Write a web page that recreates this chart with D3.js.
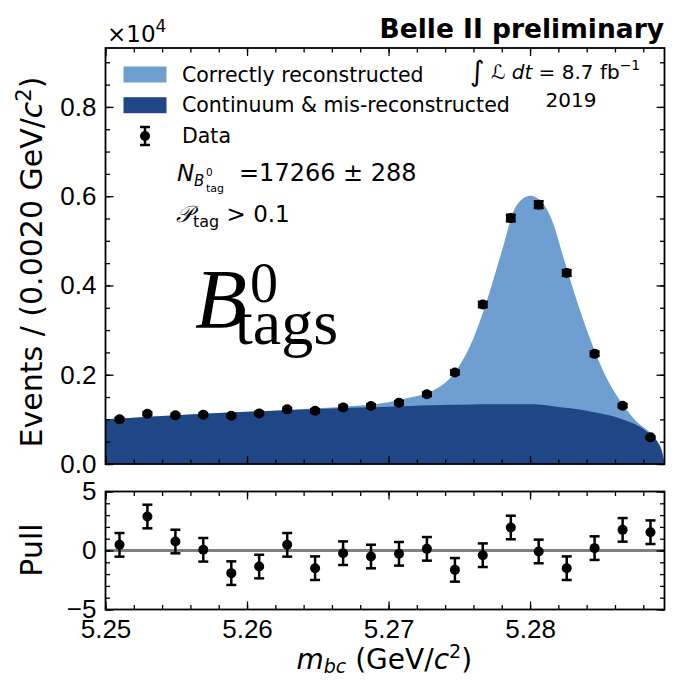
<!DOCTYPE html>
<html>
<head>
<meta charset="utf-8">
<script src="https://cdn.jsdelivr.net/npm/d3@7"></script>
<style>
  body { margin: 0; background: #fff; }
  svg { display: block; font-family: "DejaVu Sans", sans-serif; }
</style>
</head>
<body>
<svg id="chart" width="673" height="683"></svg>
<script>
// bin centres of the m_bc histogram (GeV/c^2)
const binCenters = [5.25099, 5.25296, 5.25494, 5.25691, 5.25889, 5.26086, 5.26284, 5.26481, 5.26679, 5.26876,
  5.27074, 5.27271, 5.27469, 5.27666, 5.27864, 5.28061, 5.28259, 5.28456, 5.28654, 5.28851];
const events = [1000, 1125, 1090, 1103, 1080, 1134, 1224, 1192, 1268, 1298,
  1371, 1563, 2051, 3573, 5510, 5810, 4280, 2468, 1304, 597];
const eventErr = [32, 34, 33, 33, 33, 34, 35, 35, 36, 36, 37, 40, 45, 60, 74, 76, 65, 50, 36, 24];
const pulls = [0.48, 2.88, 0.76, 0.06, -1.92, -1.36, 0.48, -1.50, -0.23, -0.51,
  -0.28, 0.14, -1.64, -0.40, 1.95, -0.08, -1.50, 0.20, 1.75, 1.55];

// fit curves
const curveMbc = [5.2500, 5.2540, 5.2580, 5.2620, 5.2660, 5.2680, 5.2700, 5.2715, 5.2730, 5.2745,
  5.2760, 5.2770, 5.2780, 5.2790, 5.2800, 5.2808, 5.2815, 5.2825, 5.2835, 5.2845,
  5.2855, 5.2865, 5.2875, 5.2882, 5.2887, 5.2891, 5.2893, 5.2895];
const bkgCurve = [1000, 1075, 1140, 1195, 1245, 1265, 1285, 1300, 1315, 1325,
  1333, 1337, 1340, 1340, 1336, 1330, 1300, 1260, 1220, 1160,
  1095, 1005, 880, 740, 611, 440, 300, 0];
const totalCurve = [1000, 1075, 1142, 1200, 1265, 1310, 1385, 1490, 1620, 1980,
  2820, 3710, 4760, 5770, 6010, 5880, 5500, 4480, 3470, 2590,
  1870, 1360, 960, 780, 640, 455, 310, 0];

const legendLabels = ['Correctly reconstructed', 'Continuum & mis-reconstructed', 'Data'];

const lightBlue = '#6f9fd0';
const darkBlue = '#1f4786';

const svg = d3.select('#chart');

const x = d3.scaleLinear().domain([5.25, 5.2895]).range([105.5, 664.5]);
const y = d3.scaleLinear().domain([0, 9320]).range([464, 48]);
const yp = d3.scaleLinear().domain([-5, 5]).range([609.5, 491.5]);

const pts = curveMbc.map((m, i) => ({m, bkg: bkgCurve[i], tot: totalCurve[i]}));

// filled components
svg.append('path')
  .datum(pts)
  .attr('fill', lightBlue)
  .attr('d', d3.area().x(d => x(d.m)).y0(y(0)).y1(d => y(d.tot)).curve(d3.curveMonotoneX));

svg.append('path')
  .datum(pts)
  .attr('fill', darkBlue)
  .attr('d', d3.area().x(d => x(d.m)).y0(y(0)).y1(d => y(d.bkg)).curve(d3.curveMonotoneX));

// data points with error bars
function drawPoints(g, xs, ys, errs, ysc) {
  const pt = g.selectAll('g.pt')
    .data(xs.map((v, i) => ({x: v, y: ys[i], e: errs[i]})))
    .enter().append('g').attr('class', 'pt');
  pt.append('line')
    .attr('x1', d => x(d.x)).attr('x2', d => x(d.x))
    .attr('y1', d => ysc(d.y - d.e)).attr('y2', d => ysc(d.y + d.e))
    .attr('stroke', '#000').attr('stroke-width', 2.5);
  [-1, 1].forEach(s => {
    pt.append('line')
      .attr('x1', d => x(d.x) - 5).attr('x2', d => x(d.x) + 5)
      .attr('y1', d => ysc(d.y + s * d.e)).attr('y2', d => ysc(d.y + s * d.e))
      .attr('stroke', '#000').attr('stroke-width', 2.5);
  });
  pt.append('circle')
    .attr('cx', d => x(d.x)).attr('cy', d => ysc(d.y)).attr('r', 5)
    .attr('fill', '#000');
}

drawPoints(svg.append('g'), binCenters, events, eventErr, y);

// pull panel zero line and points
svg.append('line')
  .attr('x1', x.range()[0]).attr('x2', x.range()[1])
  .attr('y1', yp(0)).attr('y2', yp(0))
  .attr('stroke', '#808080').attr('stroke-width', 3);

drawPoints(svg.append('g'), binCenters, pulls, pulls.map(() => 1), yp);

// ticks (inward, all four sides)
function tickAxes(ysc, yMajor, yMinor, yFmt, xLabels) {
  const top = ysc.range()[1], bot = ysc.range()[0];
  const g = svg.append('g');
  const mk = (axis, tx, ty) => {
    const a = g.append('g').attr('transform', `translate(${tx},${ty})`).call(axis);
    a.select('.domain').remove();
    a.selectAll('line').attr('stroke', '#000').attr('stroke-width', 1.3);
    return a;
  };
  const xMaj = x.ticks(4), xMin = x.ticks(20);
  mk(d3.axisBottom(x).tickValues(xMin).tickSize(-4.5).tickFormat(''), 0, bot);
  const xb = mk(d3.axisBottom(x).tickValues(xMaj).tickSize(-8).tickPadding(10)
    .tickFormat(xLabels ? d3.format('.2f') : ''), 0, bot);
  xb.selectAll('text').attr('font-size', 26).attr('fill', '#000');
  mk(d3.axisTop(x).tickValues(xMin).tickSize(-4.5).tickFormat(''), 0, top);
  mk(d3.axisTop(x).tickValues(xMaj).tickSize(-8).tickFormat(''), 0, top);

  mk(d3.axisLeft(ysc).tickValues(yMinor).tickSize(-4.5).tickFormat(''), x.range()[0], 0);
  const yl = mk(d3.axisLeft(ysc).tickValues(yMajor).tickSize(-8).tickPadding(9).tickFormat(yFmt), x.range()[0], 0);
  yl.selectAll('text').attr('font-size', 26).attr('fill', '#000');
  mk(d3.axisRight(ysc).tickValues(yMinor).tickSize(-4.5).tickFormat(''), x.range()[1], 0);
  mk(d3.axisRight(ysc).tickValues(yMajor).tickSize(-8).tickFormat(''), x.range()[1], 0);

  g.append('rect')
    .attr('x', x.range()[0]).attr('y', top)
    .attr('width', x.range()[1] - x.range()[0]).attr('height', bot - top)
    .attr('fill', 'none').attr('stroke', '#000').attr('stroke-width', 1.8);
}

tickAxes(y, y.ticks(5), y.ticks(20), d => (d / 10000).toFixed(1), false);
tickAxes(yp, yp.ticks(2), yp.ticks(10), d3.format('d'), true);

// axis titles
svg.append('text')
  .attr('transform', 'translate(42,262) rotate(-90)')
  .attr('text-anchor', 'middle').attr('font-size', 30)
  .html('Events / (0.0020 GeV/<tspan font-style="italic">c</tspan><tspan dy="-11" font-size="21">2</tspan><tspan dy="11">)</tspan>');

svg.append('text')
  .attr('transform', 'translate(42,550) rotate(-90)')
  .attr('text-anchor', 'middle').attr('font-size', 30)
  .text('Pull');

svg.append('text')
  .attr('x', x(5.2697)).attr('y', 669)
  .attr('text-anchor', 'middle').attr('font-size', 28)
  .html('<tspan font-style="italic">m</tspan><tspan font-style="italic" font-size="19" dy="4">bc</tspan>' +
    '<tspan dy="-4"> (GeV/</tspan><tspan font-style="italic">c</tspan><tspan dy="-11" font-size="19">2</tspan><tspan dy="11">)</tspan>');

// header texts
svg.append('text')
  .attr('x', 107).attr('y', 42).attr('font-size', 23)
  .html('×10<tspan dy="-10" font-size="17">4</tspan>');

svg.append('text')
  .attr('x', 664).attr('y', 38).attr('text-anchor', 'end')
  .attr('font-size', 26.5).attr('font-weight', 'bold')
  .text('Belle II preliminary');

// legend
const leg = svg.append('g');
[lightBlue, darkBlue].forEach((c, i) => {
  leg.append('rect')
    .attr('x', 123.5).attr('y', 66.5 + i * 30.7).attr('width', 43).attr('height', 16)
    .attr('fill', c);
});
leg.append('line').attr('x1', 145).attr('x2', 145).attr('y1', 127).attr('y2', 145)
  .attr('stroke', '#000').attr('stroke-width', 2.5);
[127, 145].forEach(v => leg.append('line').attr('x1', 140).attr('x2', 150).attr('y1', v).attr('y2', v)
  .attr('stroke', '#000').attr('stroke-width', 2.5));
leg.append('circle').attr('cx', 145).attr('cy', 136).attr('r', 5).attr('fill', '#000');
legendLabels.forEach((t, i) => {
  leg.append('text')
    .attr('x', 182).attr('y', 81.5 + i * 30.7)
    .attr('font-size', 20.5).text(t);
});

// luminosity
svg.append('text')
  .attr('x', 470).attr('y', 79).attr('font-size', 20)
  .html('<tspan font-size="28" dy="2">∫</tspan><tspan dy="-2" font-style="italic"> ℒ dt</tspan> = 8.7 fb<tspan dy="-9" font-size="14">−1</tspan>');
svg.append('text')
  .attr('x', 571).attr('y', 107).attr('text-anchor', 'middle').attr('font-size', 20)
  .text('2019');

// yield and cut
svg.append('text').attr('x', 177).attr('y', 181).attr('font-size', 23).attr('font-style', 'italic').text('N');
svg.append('text').attr('x', 194).attr('y', 186).attr('font-size', 15).attr('font-style', 'italic').text('B');
svg.append('text').attr('x', 206).attr('y', 176).attr('font-size', 10.5).text('0');
svg.append('text').attr('x', 206).attr('y', 192).attr('font-size', 11).text('tag');
svg.append('text').attr('x', 239).attr('y', 181).attr('font-size', 24).text('=17266 ± 288');

svg.append('text').attr('x', 176).attr('y', 222).attr('font-size', 23)
  .html('<tspan font-style="italic">𝒫</tspan><tspan font-size="16" dy="5">tag</tspan><tspan dy="-5"> &gt; 0.1</tspan>');

// big label
svg.append('text').attr('x', 195).attr('y', 328)
  .attr('font-family', '"Liberation Serif", serif').attr('font-size', 85).attr('font-style', 'italic')
  .text('B');
svg.append('text').attr('x', 250).attr('y', 302)
  .attr('font-family', '"Liberation Serif", serif').attr('font-size', 56)
  .text('0');
svg.append('text').attr('x', 235).attr('y', 344)
  .attr('font-family', '"Liberation Serif", serif').attr('font-size', 64)
  .text('tags');
</script>
</body>
</html>
